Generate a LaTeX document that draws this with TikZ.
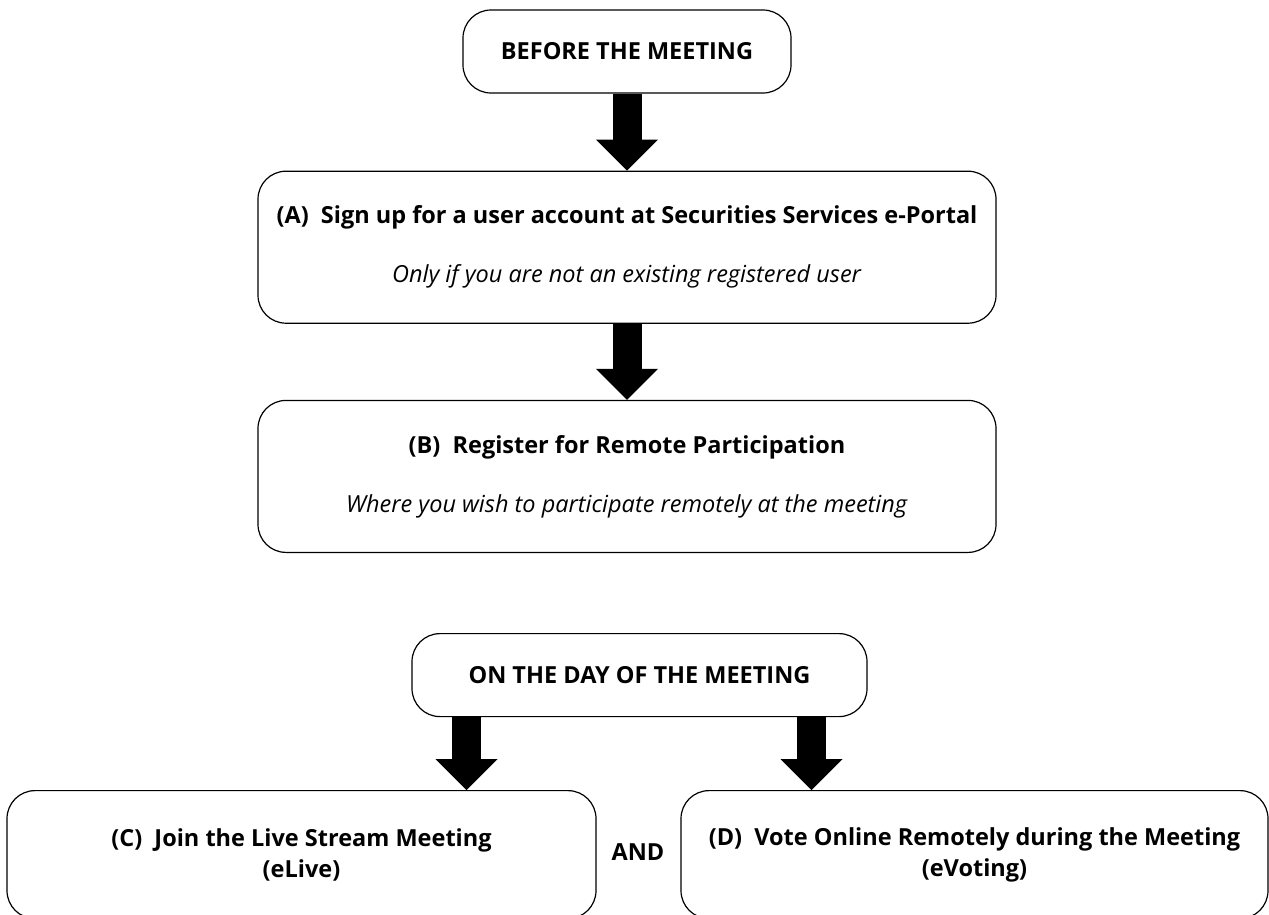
\documentclass[tikz,border=0pt]{standalone}
\usepackage{fontspec}
\setmainfont{Open Sans}
\usetikzlibrary{positioning,arrows.meta}
\tikzset{>={Triangle[width=62pt,length=31pt,line width=0pt]}}
\tikzset{
	roundbox/.style={draw, line width=1.2pt, rounded corners=28pt, align=center, inner sep=0pt},
	stage/.style={roundbox, minimum height=83pt, font=\fontsize{23.5}{28}\selectfont\bfseries},
	stepbox/.style={roundbox, minimum width=738pt, minimum height=152pt, font=\fontsize{23.5}{28}\selectfont},
	choice/.style={roundbox, minimum height=128pt, anchor=north, font=\fontsize{23.5}{31}\selectfont\bfseries},
	fat/.style={->, line width=29pt}
}

\begin{document}
\begin{tikzpicture}[x=1pt,y=-1pt]
		\useasboundingbox (0,0) rectangle (1269,914);
		\node(before) [stage, minimum width=328pt] at (627,51.5) {BEFORE THE MEETING};
		\node(signup) [stepbox, below=77pt of before] {\textbf{(A)\ \ Sign up for a user account at Securities Services e-Portal}\\[31pt]\textit{Only if you are not an existing registered user}};
		\node(register) [stepbox, below=76pt of signup] {\textbf{(B)\ \ Register for Remote Participation}\\[31pt]\textit{Where you wish to participate remotely at the meeting}};
		
		\node(onday) [stage, minimum width=455pt, below=80pt of register, xshift=12.5pt] {ON THE DAY OF THE MEETING};
		
		\node(elive) [choice, minimum width=589pt] at (301.5,790) {(C)\ \ Join the Live Stream Meeting\\(eLive)};
		\node(evote) [choice, minimum width=587pt] at (974.5,790) {(D)\ \ Vote Online Remotely during the Meeting\\(eVoting)};
		\node(and) [font=\fontsize{23.5}{28}\selectfont\bfseries] at (638,852) {AND};
		
		\draw[fat] (before) -- (signup);
		\draw[fat] (signup) -- (register);
		% two arrows off the day box
		\draw[fat] ([xshift=-173pt]onday.south) -- ([xshift=-173pt]onday.south |- elive.north);
		\draw[fat] ([xshift=172pt]onday.south) -- ([xshift=172pt]onday.south |- evote.north);
\end{tikzpicture}
\end{document}
